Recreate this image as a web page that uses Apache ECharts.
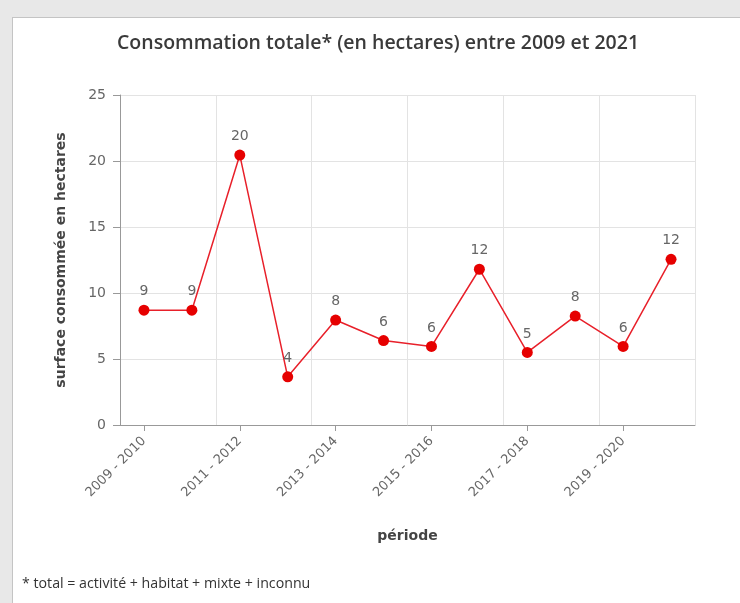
<!DOCTYPE html>
<html><head><meta charset="utf-8">
<script src="https://cdn.jsdelivr.net/npm/echarts@6/dist/echarts.min.js"></script>
<style>
html,body{margin:0;padding:0;width:740px;height:603px;background:#e8e8e8;overflow:hidden;}
#card{position:absolute;left:12px;top:17px;right:0;bottom:0;background:#fff;border-left:1px solid #c4c4c4;border-top:1px solid #c4c4c4;}
#chart{position:absolute;left:0;top:0;width:740px;height:603px;}
#note{position:absolute;left:22px;top:573px;font-family:"Open Sans",sans-serif;font-size:14.2px;color:#333;}
</style></head>
<body>
<div id="card"></div>
<div id="chart"></div>
<div id="note">* total = activité + habitat + mixte + inconnu</div>
<script>
const categories = ["2009 - 2010","2010 - 2011","2011 - 2012","2012 - 2013","2013 - 2014","2014 - 2015","2015 - 2016","2016 - 2017","2017 - 2018","2018 - 2019","2019 - 2020","2020 - 2021"];
const values = [8.7, 8.7, 20.45, 3.65, 7.95, 6.4, 5.95, 11.8, 5.5, 8.25, 5.95, 12.55];
const valueLabels = ["9","9","20","4","8","6","6","12","5","8","6","12"];

const chart = echarts.init(document.getElementById('chart'), null, {renderer:'canvas'});
chart.setOption({
  backgroundColor: 'transparent',
  animation: false,
  title: {
    text: 'Consommation totale* (en hectares) entre 2009 et 2021',
    left: 112, top: 28,
    textStyle: {fontFamily: 'Open Sans', fontSize: 19.5, fontWeight: 600, color: '#3a3a3a'}
  },
  grid: {left: 120, right: 45, top: 95, bottom: 178},
  xAxis: {
    type: 'category',
    data: categories,
    boundaryGap: true,
    name: 'période',
    nameLocation: 'middle',
    nameGap: 104,
    nameTextStyle: {fontFamily: 'DejaVu Sans', fontSize: 14, fontWeight: 'bold', color: '#444'},
    axisLine: {lineStyle: {color: '#999'}},
    axisTick: {show: true, alignWithLabel: true, interval: 1, length: 6, lineStyle: {color: '#999'}},
    axisLabel: {interval: 1, rotate: 45, fontFamily: 'DejaVu Sans', fontSize: 13, color: '#666', margin: 14},
    splitLine: {show: true, interval: 1, lineStyle: {color: '#e3e3e3'}}
  },
  yAxis: {
    type: 'value',
    min: 0, max: 25, interval: 5,
    name: 'surface consommée en hectares',
    nameLocation: 'middle',
    nameGap: 52,
    nameTextStyle: {fontFamily: 'DejaVu Sans', fontSize: 14, fontWeight: 'bold', color: '#444'},
    axisLine: {show: true, lineStyle: {color: '#999'}},
    axisTick: {show: true, length: 7, lineStyle: {color: '#999'}},
    axisLabel: {fontFamily: 'DejaVu Sans', fontSize: 14, color: '#666', margin: 14},
    splitLine: {show: true, lineStyle: {color: '#e3e3e3'}}
  },
  series: [{
    type: 'line',
    data: values,
    symbol: 'circle',
    symbolSize: 11,
    itemStyle: {color: '#e60000'},
    lineStyle: {color: '#e8202a', width: 1.5},
    label: {
      show: true, position: 'top', distance: 6,
      fontFamily: 'DejaVu Sans', fontSize: 14, color: '#666',
      formatter: p => valueLabels[p.dataIndex]
    }
  }]
});
</script>
</body></html>
